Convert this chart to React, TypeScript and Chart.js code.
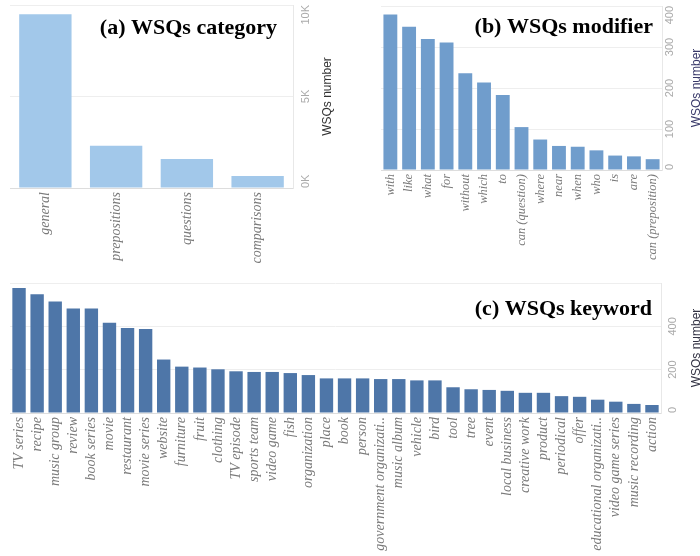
import React, { useEffect, useRef } from 'react';
import { Chart, registerables } from 'chart.js';

Chart.register(...registerables);

// ---- data ----
const categoryLabels = ['general', 'prepositions', 'questions', 'comparisons'];
const categoryValues = [10060, 2450, 1680, 690];
const categoryTicks = ['0K', '5K', '10K'];

const modifierLabels = ['with', 'like', 'what', 'for', 'without', 'which', 'to', 'can (question)', 'where', 'near', 'when', 'who', 'is', 'are', 'can (preposition)'];
const modifierValues = [388, 357, 327, 318, 241, 218, 187, 107, 76, 60, 58, 49, 36, 34, 27];
const modifierTicks = ['0', '100', '200', '300', '400'];

const keywordLabels = ['TV series', 'recipe', 'music group', 'review', 'book series', 'movie', 'restaurant', 'movie series', 'website', 'furniture', 'fruit', 'clothing', 'TV episode', 'sports team', 'video game', 'fish', 'organization', 'place', 'book', 'person', 'government organizati..', 'music album', 'vehicle', 'bird', 'tool', 'tree', 'event', 'local business', 'creative work', 'product', 'periodical', 'offer', 'educational organizati..', 'video game series', 'music recording', 'action'];
const keywordValues = [564, 535, 503, 471, 471, 407, 383, 379, 241, 209, 205, 197, 188, 185, 185, 180, 171, 156, 156, 156, 153, 153, 147, 147, 116, 107, 104, 100, 91, 91, 76, 73, 60, 51, 41, 36];
const keywordTicks = ['0', '200', '400'];

const axisTitle = 'WSQs number';

type Panel = {
  labels: string[];
  values: number[];
  ticks: string[];
  color: string;
  max: number;
  step: number;
  left: number;
  top: number;
  w: number;
  h: number;
  padLeft: number;
  padTop: number;
  xH: number;
  yW: number;
  tickX: number;
  labelSize: number;
  title: string;
  titleRight: number;
  titleBase: number;
  sideX: number;
  sideColor: string;
};

const panels: Panel[] = [
  {
    labels: categoryLabels, values: categoryValues, ticks: categoryTicks,
    color: '#a2c8ea', max: 10600, step: 5000,
    left: 0, top: 0, w: 345, h: 263, padLeft: 10, padTop: 5, xH: 75, yW: 52,
    tickX: 306, labelSize: 14,
    title: '(a) WSQs category', titleRight: 277, titleBase: 34,
    sideX: 328, sideColor: '#333333',
  },
  {
    labels: modifierLabels, values: modifierValues, ticks: modifierTicks,
    color: '#709dcc', max: 409, step: 100,
    left: 345, top: 0, w: 355, h: 264, padLeft: 36, padTop: 6, xH: 94, yW: 38,
    tickX: 325, labelSize: 12.5,
    title: '(b) WSQs modifier', titleRight: 308, titleBase: 33,
    sideX: 352, sideColor: '#3a3a6a',
  },
  {
    labels: keywordLabels, values: keywordValues, ticks: keywordTicks,
    color: '#4e76a8', max: 586, step: 200,
    left: 0, top: 275, w: 700, h: 281, padLeft: 10, padTop: 8, xH: 143, yW: 39,
    tickX: 673, labelSize: 14,
    title: '(c) WSQs keyword', titleRight: 652, titleBase: 40,
    sideX: 697, sideColor: '#333344',
  },
];

function makePlugins(p: Panel) {
  return [
    {
      id: 'rotatedTicks',
      afterDraw(chart: any) {
        const { ctx, chartArea } = chart;
        const s = chart.scales.y;
        ctx.save();
        ctx.font = '11px "Liberation Sans", Arial, sans-serif';
        ctx.fillStyle = '#aaaaaa';
        ctx.textAlign = 'center';
        ctx.textBaseline = 'middle';
        s.ticks.forEach((t: any, i: number) => {
          const text = p.ticks[i];
          if (text === undefined) return;
          const half = ctx.measureText(text).width / 2;
          let y = s.getPixelForValue(t.value);
          y = Math.max(y, chartArea.top + half);
          y = Math.min(y, chartArea.bottom - half);
          ctx.save();
          ctx.translate(p.tickX, y);
          ctx.rotate(-Math.PI / 2);
          ctx.fillText(text, 0, 0);
          ctx.restore();
        });
        ctx.restore();
      },
    },
    {
      id: 'sideTitle',
      afterDraw(chart: any) {
        const { ctx, chartArea } = chart;
        ctx.save();
        ctx.font = '12px "Liberation Sans", Arial, sans-serif';
        ctx.fillStyle = p.sideColor;
        ctx.translate(p.sideX, (chartArea.top + chartArea.bottom) / 2);
        ctx.rotate(-Math.PI / 2);
        ctx.textAlign = 'center';
        ctx.textBaseline = 'middle';
        ctx.fillText(axisTitle, 0, 0);
        ctx.restore();
      },
    },
    {
      id: 'panelLabel',
      afterDraw(chart: any) {
        const { ctx } = chart;
        ctx.save();
        ctx.font = 'bold 22px "Liberation Serif", "Times New Roman", serif';
        ctx.fillStyle = '#000000';
        ctx.textAlign = 'right';
        ctx.textBaseline = 'alphabetic';
        ctx.fillText(p.title, p.titleRight, p.titleBase);
        ctx.restore();
      },
    },
  ];
}

function BarPanel({ p }: { p: Panel }) {
  const ref = useRef<HTMLCanvasElement | null>(null);
  useEffect(() => {
    if (!ref.current) return;
    const chart = new Chart(ref.current, {
      type: 'bar',
      data: {
        labels: p.labels,
        datasets: [
          {
            data: p.values,
            backgroundColor: p.color,
            borderWidth: 0,
            barPercentage: 0.74,
            categoryPercentage: 1,
          },
        ],
      },
      options: {
        responsive: false,
        animation: false,
        events: [],
        layout: { padding: { left: p.padLeft, top: p.padTop, right: 0, bottom: 0 } },
        plugins: { legend: { display: false }, tooltip: { enabled: false }, title: { display: false } },
        scales: {
          x: {
            grid: { display: false, drawTicks: false },
            border: { display: true, color: '#dddddd' },
            ticks: {
              autoSkip: false,
              minRotation: 90,
              maxRotation: 90,
              padding: 4,
              color: '#7a7a7a',
              font: { family: '"Liberation Serif", "Times New Roman", serif', style: 'italic', size: p.labelSize },
            },
            afterFit: (s: any) => { s.height = p.xH; },
          },
          y: {
            position: 'right',
            min: 0,
            max: p.max,
            grid: { color: '#eeeeee', drawTicks: false },
            border: { display: true, color: '#e8e8e8' },
            ticks: {
              display: false,
              stepSize: p.step,
              includeBounds: false,
            },
            afterFit: (s: any) => { s.width = p.yW; },
          },
        },
      } as any,
      plugins: makePlugins(p) as any,
    });
    return () => chart.destroy();
  }, [p]);
  return (
    <canvas
      ref={ref}
      width={p.w}
      height={p.h}
      style={{ position: 'absolute', left: p.left, top: p.top, width: p.w, height: p.h }}
    />
  );
}

export default function App() {
  return (
    <div style={{ position: 'fixed', left: 0, top: 0, width: 700, height: 556, background: '#ffffff', overflow: 'hidden' }}>
      {panels.map((p, i) => (
        <BarPanel key={i} p={p} />
      ))}
    </div>
  );
}
